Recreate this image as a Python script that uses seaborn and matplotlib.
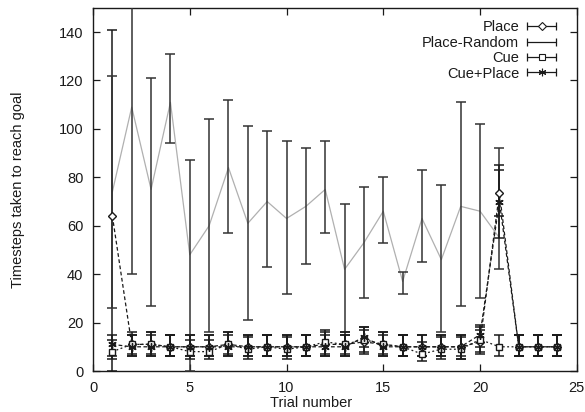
import numpy as np
import pandas as pd
import matplotlib
matplotlib.use("Agg")
import matplotlib.pyplot as plt
import seaborn as sns
from matplotlib.lines import Line2D
from matplotlib.legend_handler import HandlerLine2D, HandlerTuple

# ---------------- data ----------------
trials = list(range(1, 25))
trials_random = list(range(1, 22))

place_mean = [64, 11, 11, 10, 10, 10, 11, 10, 10, 10, 10, 11, 11, 12, 11, 10, 10, 10, 10, 12, 73.5, 10, 10, 10]
place_lo   = [0, 6, 6, 6, 6, 6, 6, 5, 6, 6, 6, 6, 6, 7, 6, 6, 6, 6, 5, 7, 64, 6, 6, 6]
place_hi   = [141, 15, 16, 15, 15, 15, 16, 15, 15, 15, 15, 16, 15, 17, 16, 15, 15, 15, 15, 17, 83, 15, 15, 15]

random_mean = [74, 109, 75, 111, 48, 60, 84, 61, 70, 63, 68, 75, 42, 53, 66, 37, 63, 46, 68, 66, 55]
random_lo   = [26, 40, 27, 94, 0, 16, 57, 21, 43, 32, 44, 57, 16, 30, 53, 32, 45, 16, 27, 30, 42]
random_hi   = [122, 160, 121, 131, 87, 104, 112, 101, 99, 95, 92, 95, 69, 76, 80, 41, 83, 77, 111, 102, 92]

cue_mean = [8, 11, 11, 10, 8, 8, 11, 9, 10, 9, 10, 12, 11, 13, 11, 10, 7, 9, 9, 13, 10, 10, 10, 10]
cue_lo   = [5, 7, 7, 6, 5, 5, 7, 6, 6, 5, 6, 7, 7, 8, 7, 6, 4, 5, 5, 8, 6, 6, 6, 6]
cue_hi   = [13, 16, 16, 15, 13, 13, 16, 14, 15, 14, 15, 17, 16, 18, 16, 15, 12, 14, 14, 18, 15, 15, 15, 15]

cp_mean = [11, 10, 10, 10, 10, 10, 10, 10, 10, 10, 10, 10, 10, 14, 10, 10, 10, 10, 10, 15, 70, 10, 10, 10]
cp_lo   = [6, 6, 6, 6, 6, 6, 6, 6, 6, 6, 6, 6, 6, 10, 6, 6, 6, 6, 6, 10, 55, 6, 6, 6]
cp_hi   = [15, 15, 15, 15, 15, 15, 15, 15, 15, 15, 15, 15, 15, 18, 15, 15, 15, 15, 15, 19, 85, 15, 15, 15]

labels = ["Place", "Place-Random", "Cue", "Cue+Place"]
xticks = [0, 5, 10, 15, 20, 25]
yticks = [0, 20, 40, 60, 80, 100, 120, 140]

# ---------------- figure ----------------
sns.set_theme(style="ticks")
plt.rcParams['font.family'] = ['Liberation Sans', 'DejaVu Sans']

fig = plt.figure(figsize=(5.85, 4.12), dpi=100)
ax = fig.add_axes([0.159, 0.0995, 0.827, 0.8815])

ink = "#1a1a1a"

series = [
    dict(label=labels[0], x=trials, m=place_mean, lo=place_lo, hi=place_hi,
         marker="D", ms=4.5, ls=(0, (3, 2)), lc=ink, ecol=ink),
    dict(label=labels[1], x=trials_random, m=random_mean, lo=random_lo, hi=random_hi,
         marker=None, ms=0, ls="-", lc="#b0b0b0", ecol="#333333"),
    dict(label=labels[2], x=trials, m=cue_mean, lo=cue_lo, hi=cue_hi,
         marker="s", ms=4.5, ls=(0, (1.5, 2)), lc=ink, ecol=ink),
    dict(label=labels[3], x=trials, m=cp_mean, lo=cp_lo, hi=cp_hi,
         marker=(6, 2, 0), ms=6, ls=(0, (3, 2)), lc=ink, ecol=ink),
]

for s in series:
    df = pd.DataFrame({"trial": s["x"], "steps": s["m"]})
    sns.lineplot(data=df, x="trial", y="steps", ax=ax, color=s["lc"],
                 linewidth=0.9, legend=False, zorder=2)
    ax.lines[-1].set_linestyle(s["ls"])
    m = np.array(s["m"], dtype=float)
    yerr = np.vstack([m - np.array(s["lo"]), np.array(s["hi"]) - m])
    ax.errorbar(s["x"], m, yerr=yerr, fmt="none", ecolor=s["ecol"],
                elinewidth=1.1, capsize=3.5, capthick=1.1, zorder=3)
    if s["marker"] is not None:
        ax.plot(s["x"], m, linestyle="none", marker=s["marker"], ms=s["ms"],
                mfc="white" if s["marker"] in ("D", "s") else ink,
                mec=ink, mew=1.0, zorder=4)

ax.set_xlim(0, 25)
ax.set_ylim(0, 150)
ax.set_xticks(xticks)
ax.set_yticks(yticks)
ax.tick_params(direction="in", length=5, width=0.9, top=True, right=True,
               labelsize=10.5, colors=ink, pad=7)
for sp in ax.spines.values():
    sp.set_visible(True)
    sp.set_color(ink)
    sp.set_linewidth(1.0)

ax.set_xlabel("Trial number", fontsize=10.5, color=ink, labelpad=0)
ax.set_ylabel("Timesteps taken to reach goal", fontsize=10.5, color=ink)
ax.xaxis.set_label_coords(0.45, -0.068)
ax.yaxis.set_label_coords(-0.14, 0.5)

# legend in gnuplot style: text right-aligned, horizontal error-bar sample
handles = []
hmap = {}
for s in series:
    bar = Line2D([], [], color=ink, lw=0.9, marker="|", ms=6, mew=0.9)
    hmap[bar] = HandlerLine2D(numpoints=2)
    if s["marker"] is not None:
        mk = Line2D([], [], linestyle="none", marker=s["marker"], ms=s["ms"] * 0.9,
                    mfc="white" if s["marker"] in ("D", "s") else ink, mec=ink, mew=0.8)
        handles.append((bar, mk))
    else:
        handles.append((bar,))
hmap[tuple] = HandlerTuple(ndivide=1)
leg = ax.legend(handles, labels, loc="upper right", bbox_to_anchor=(0.985, 0.99),
                markerfirst=False, frameon=False, fontsize=10.5, handlelength=2.6,
                handletextpad=0.25, labelspacing=0.1, borderaxespad=0.2,
                handler_map=hmap)
for t in leg.get_texts():
    t.set_color(ink)

fig.savefig("out.png", dpi=100, facecolor="white")
